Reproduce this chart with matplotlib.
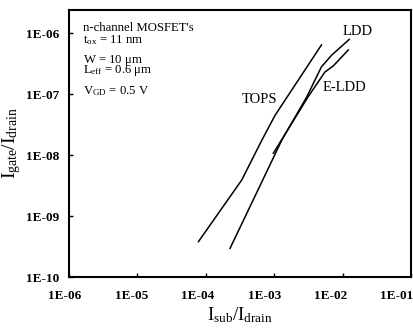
import matplotlib
matplotlib.use('Agg')
import matplotlib.pyplot as plt
import matplotlib.transforms as mtransforms

# ---------- plot settings ---------- #
matplotlib.rc('font', family='Liberation Serif')
matplotlib.rc('mathtext', fontset='custom', rm='Liberation Serif',
              it='Liberation Serif:italic', bf='Liberation Serif:bold')

# ---------- data ---------- #
tops_x = [7.8e-5, 3.35e-4, 6.6e-4, 1.03e-3, 4.9e-3]
tops_y = [3.8e-10, 3.9e-9, 1.76e-8, 4.5e-8, 6.4e-7]

ldd_x = [2.26e-4, 1.29e-3, 2.99e-3, 4.9e-3, 6.9e-3, 1.25e-2]
ldd_y = [2.95e-10, 1.76e-8, 9.0e-8, 2.8e-7, 4.35e-7, 7.9e-7]

eldd_x = [9.7e-4, 3.1e-3, 5.5e-3, 7.3e-3, 1.21e-2]
eldd_y = [1.07e-8, 8.9e-8, 2.3e-7, 2.9e-7, 5.3e-7]

xticks = [1e-6, 1e-5, 1e-4, 1e-3, 1e-2, 1e-1]
xtick_labels = ['1E-06', '1E-05', '1E-04', '1E-03', '1E-02', '1E-01']
yticks = [1e-10, 1e-9, 1e-8, 1e-7, 1e-6]
ytick_labels = ['1E-10', '1E-09', '1E-08', '1E-07', '1E-06']

fig = plt.figure(figsize=(4.14, 3.31), dpi=100)
ax = fig.add_axes([0.1667, 0.1631, 0.8261, 0.8067])

ax.plot(tops_x, tops_y, color='black', lw=1.1)
ax.plot(ldd_x, ldd_y, color='black', lw=1.1)
ax.plot(eldd_x, eldd_y, color='black', lw=1.1)

ax.set_xscale('log')
ax.set_yscale('log')
ax.set_xlim(1e-6, 1e-1)
ax.set_ylim(1e-10, 10 ** -5.62)

ax.set_xticks(xticks)
ax.set_xticklabels(xtick_labels)
ax.set_yticks(yticks)
ax.set_yticklabels(ytick_labels)
ax.minorticks_off()
ax.tick_params(direction='in', length=3, width=1, labelsize=9.5)
ax.tick_params(axis='x', pad=9)
ax.tick_params(axis='y', pad=7)
for lab in ax.get_xticklabels() + ax.get_yticklabels():
    lab.set_fontweight('bold')
# the scanned x labels drift left a bit more with each decade
for i, lab in enumerate(ax.get_xticklabels()):
    shift = mtransforms.ScaledTranslation(-(4 + 2 * i) / 100, 0, fig.dpi_scale_trans)
    lab.set_transform(lab.get_transform() + shift)
for s in ax.spines.values():
    s.set_linewidth(1.5)

ax.set_xlabel(r'$\mathregular{I_{sub}/I_{drain}}$', fontsize=13.5, labelpad=3)
ax.set_ylabel(r'$\mathregular{I_{gate}/I_{drain}}$', fontsize=14, labelpad=2)

# curve labels
ax.text(6.2e-4, 8.3e-8, 'TOPS', fontsize=10.5, ha='center', va='center')
ax.text(1.68e-2, 1.07e-6, 'LDD', fontsize=10.5, ha='center', va='center')
ax.text(1.08e-2, 1.3e-7, 'E-LDD', fontsize=10.5, ha='center', va='center')

# device info block
info = [
    ("n-channel MOSFET's", 28),
    (r"$\mathregular{t_{ox}}$ = 11 nm", 40),
    (r"W = 10 $\mathregular{\mu}$m", 60),
    (r"$\mathregular{L_{eff}}$ = 0.6 $\mathregular{\mu}$m", 71),
    (r"$\mathregular{V_{GD}}$ = 0.5 V", 91),
]
for txt, py in info:
    fig.text(83 / 414, 1 - py / 331, txt, fontsize=9.2, ha='left', va='center')

fig.savefig('out.png', dpi=100)
